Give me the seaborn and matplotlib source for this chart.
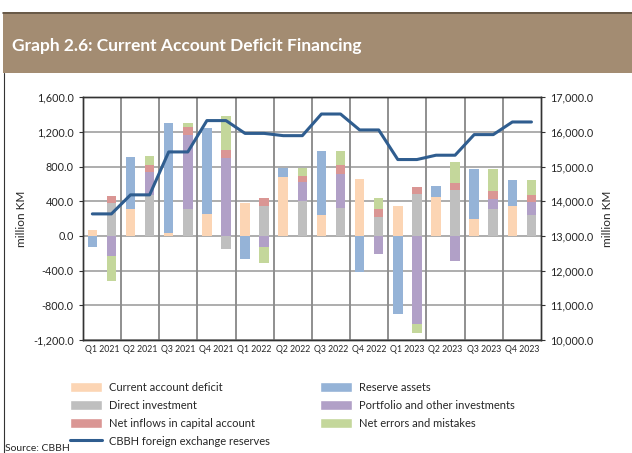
import numpy as np
import pandas as pd
import seaborn as sns
import matplotlib.pyplot as plt
from matplotlib.patches import Patch, Rectangle
from matplotlib.lines import Line2D
from matplotlib.ticker import FuncFormatter

quarters = ["Q1 2021", "Q2 2021", "Q3 2021", "Q4 2021", "Q1 2022", "Q2 2022",
            "Q3 2022", "Q4 2022", "Q1 2023", "Q2 2023", "Q3 2023", "Q4 2023"]

# left bar of each quarter
current_account_deficit = [69, 309, 31, 250, 377, 677, 242, 654, 342, 454, 192, 346]
reserve_assets = [-131, 608, 1277, 992, -265, 104, 742, -423, -900, 123, 577, 300]

# right bar of each quarter
direct_investment = [377, 474, 308, -146, 346, 404, 327, 223, 481, 535, 315, 238]
portfolio_other = [-231, 269, 858, 904, -123, 215, 392, -212, -1019, -288, 108, 158]
capital_account = [85, 78, 96, 88, 88, 77, 96, 85, 85, 77, 100, 77]
net_errors = [-296, 104, 46, 392, -192, 85, 169, 135, -104, 246, 246, 173]

# CBBH foreign exchange reserves (right axis)
fx_reserves = [13635, 14185, 15425, 16330, 15960, 15895, 16520, 16060, 15205, 15330, 15925, 16290]

colors = {
    "Current account deficit": "#FCD5B4",
    "Direct investment": "#BFBFBF",
    "Net inflows in capital account": "#DA9694",
    "Reserve assets": "#95B3D7",
    "Portfolio and other investments": "#B1A0C7",
    "Net errors and mistakes": "#C4D79B",
}
line_color = "#2F5D8F"
grid_color = "#A0A0A0"

sns.set_style("white")
plt.rcParams["font.family"] = ["Lato", "DejaVu Sans"]

fig = plt.figure(figsize=(6.32, 4.53), dpi=100)
ax = fig.add_axes([0.131, 0.25, 0.725, 0.535])

n = len(quarters)
left_pos = np.arange(n) * 2
right_pos = left_pos + 1
grid_y = np.arange(-1200, 1601, 400)
grid_x = np.arange(1, n) * 2 - 0.5


def stack(ax, pos, layers):
    # positives stack up from zero, negatives stack down
    pos_base = np.zeros(len(pos))
    neg_base = np.zeros(len(pos))
    for name, vals in layers:
        vals = np.array(vals, dtype=float)
        bottom = np.where(vals >= 0, pos_base, neg_base)
        df = pd.DataFrame({"x": pos, "y": vals})
        # native spacing is 2, so 0.25 -> half a slot
        sns.barplot(data=df, x="x", y="y", native_scale=True, width=0.25,
                    color=colors[name], saturation=1, errorbar=None,
                    bottom=bottom, linewidth=0, ax=ax, zorder=3)
        pos_base = pos_base + np.where(vals >= 0, vals, 0)
        neg_base = neg_base + np.where(vals < 0, vals, 0)


stack(ax, left_pos, [("Current account deficit", current_account_deficit),
                     ("Reserve assets", reserve_assets)])
stack(ax, right_pos, [("Direct investment", direct_investment),
                      ("Portfolio and other investments", portfolio_other),
                      ("Net inflows in capital account", capital_account),
                      ("Net errors and mistakes", net_errors)])

# gridlines under the bars
ax.hlines(grid_y, -0.5, 2 * n - 0.5, color=grid_color, lw=1.2, zorder=2)
ax.vlines(grid_x, -1200, 1600, color="#8F8F8F", lw=1.4, zorder=2)

ax.set_xlim(-0.5, 2 * n - 0.5)
ax.set_ylim(-1200, 1600)
ax.set_yticks(grid_y)
ax.yaxis.set_major_formatter(FuncFormatter(lambda v, p: f"{v:,.1f}"))
ax.set_xticks(left_pos + 0.5)
ax.set_xticklabels(quarters, fontsize=6.3)
ax.tick_params(axis="x", which="both", length=0, pad=4)
ax.tick_params(axis="y", labelsize=7.8, length=3, direction="out", left=True, color="#333333")
ax.set_xlabel("")
ax.set_ylabel("million KM", fontsize=8.5, labelpad=4)

for s in ax.spines.values():
    s.set_color("#333333")
    s.set_linewidth(1)

ax2 = ax.twinx()
sns.lineplot(x=np.arange(2 * n), y=np.repeat(fx_reserves, 2), color=line_color, lw=2.2,
             ax=ax2, zorder=5)
ax2.set_ylim(10000, 17000)
ax2.set_yticks(np.arange(10000, 17001, 1000))
ax2.yaxis.set_major_formatter(FuncFormatter(lambda v, p: f"{v:,.1f}"))
ax2.tick_params(axis="y", labelsize=7.8, length=3, direction="out", right=True, color="#333333")
ax2.set_ylabel("million KM", fontsize=8.5, labelpad=6)
ax2.set_xlabel("")
ax2.set_xlim(-0.5, 2 * n - 0.5)
for s in ax2.spines.values():
    s.set_color("#333333")
    s.set_linewidth(1)

# header banner
fig.patches.append(Rectangle((3 / 632, 1 - 73 / 453), 1, 61 / 453, transform=fig.transFigure,
                             facecolor="#A38C72", edgecolor="none"))
fig.lines.append(Line2D([3 / 632, 1], [1 - 12.5 / 453, 1 - 12.5 / 453], transform=fig.transFigure,
                        color="#5E5040", lw=1.2))
fig.lines.append(Line2D([3.5 / 632, 3.5 / 632], [0, 1 - 73 / 453], transform=fig.transFigure,
                        color="#333333", lw=0.8))
fig.text(12 / 632, 1 - 46 / 453, "Graph 2.6: Current Account Deficit Financing",
         color="white", fontsize=12.5, fontweight="bold", va="center")

handles_left = [
    Patch(facecolor=colors["Current account deficit"], label="Current account deficit"),
    Patch(facecolor=colors["Direct investment"], label="Direct investment"),
    Patch(facecolor=colors["Net inflows in capital account"], label="Net inflows in capital account"),
    Line2D([], [], color=line_color, lw=2.2, label="CBBH foreign exchange reserves"),
]
handles_right = [
    Patch(facecolor=colors["Reserve assets"], label="Reserve assets"),
    Patch(facecolor=colors["Portfolio and other investments"], label="Portfolio and other investments"),
    Patch(facecolor=colors["Net errors and mistakes"], label="Net errors and mistakes"),
]
leg_kw = dict(frameon=False, fontsize=8, loc="upper left", handlelength=2.9, handleheight=1.05,
              handletextpad=0.6, labelspacing=0.62, borderaxespad=0, borderpad=0)
fig.legend(handles=handles_left, bbox_to_anchor=(70 / 632, 1 - 382 / 453), **leg_kw)
fig.legend(handles=handles_right, bbox_to_anchor=(320 / 632, 1 - 382 / 453), **leg_kw)

fig.text(5 / 632, 1 - 444 / 453, "Source: CBBH", fontsize=7.5, va="top")

fig.savefig("out.png", dpi=100)
